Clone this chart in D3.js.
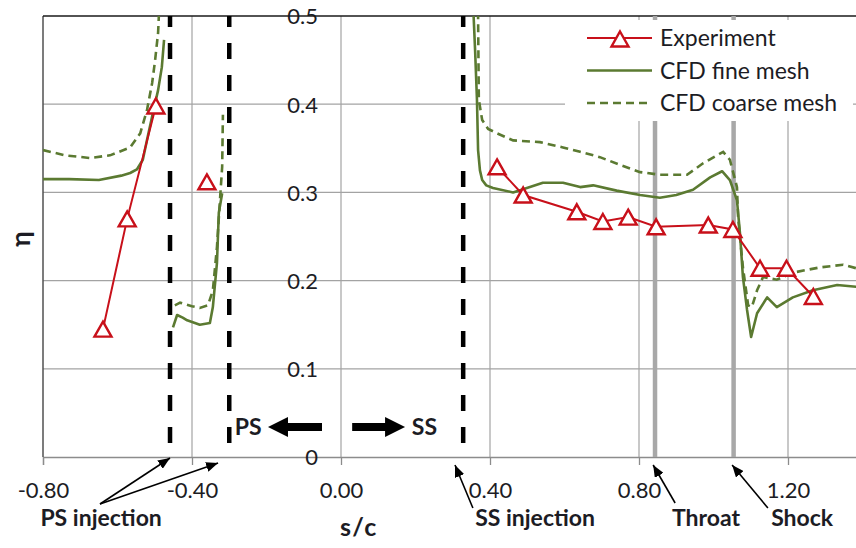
<!DOCTYPE html>
<html>
<head>
<meta charset="utf-8">
<script src="https://cdn.jsdelivr.net/npm/d3@7"></script>
<style>
  html, body { margin: 0; padding: 0; background: #fff; }
  svg { display: block; }
  text { font-family: Lato, "Liberation Sans", sans-serif; fill: #1c1c24; }
</style>
</head>
<body>
<svg id="chart" width="856" height="548"></svg>
<script>
// ---- data: surface distance s/c vs. film-cooling effectiveness η ----
const xTicks = [-0.8, -0.4, 0.0, 0.4, 0.8, 1.2];
const yTicks = [0, 0.1, 0.2, 0.3, 0.4, 0.5];

// Experiment (three separate runs of markers along the surface)
const expPS  = [[-0.639, 0.145], [-0.574, 0.270], [-0.497, 0.398]];
const expMid = [[-0.360, 0.312]];
const expSS  = [[0.419, 0.329], [0.489, 0.297], [0.633, 0.278], [0.703, 0.267], [0.771, 0.272],
                [0.846, 0.261], [0.986, 0.263], [1.052, 0.258], [1.125, 0.214], [1.196, 0.214],
                [1.268, 0.182]];

// CFD fine mesh
const finePS = [[-0.80, 0.315], [-0.73, 0.315], [-0.65, 0.314], [-0.59, 0.319], [-0.566, 0.322],
                [-0.548, 0.326], [-0.532, 0.337], [-0.521, 0.359], [-0.505, 0.390], [-0.491, 0.416],
                [-0.481, 0.442], [-0.475, 0.473]];
const fineMid = [[-0.451, 0.147], [-0.440, 0.161], [-0.425, 0.158], [-0.413, 0.155], [-0.379, 0.150],
                 [-0.352, 0.152], [-0.344, 0.170], [-0.333, 0.220], [-0.328, 0.277], [-0.319, 0.299]];
const fineSS = [[0.353, 0.52], [0.356, 0.50], [0.360, 0.461], [0.365, 0.405], [0.368, 0.348],
                [0.373, 0.325], [0.379, 0.314], [0.390, 0.308], [0.408, 0.305], [0.462, 0.300],
                [0.499, 0.305], [0.542, 0.311], [0.596, 0.311], [0.642, 0.306], [0.677, 0.308],
                [0.740, 0.302], [0.803, 0.297], [0.856, 0.294], [0.900, 0.297], [0.945, 0.303],
                [0.991, 0.317], [1.023, 0.324], [1.044, 0.314], [1.063, 0.291], [1.071, 0.254],
                [1.079, 0.204], [1.090, 0.167], [1.101, 0.136], [1.117, 0.163], [1.144, 0.181],
                [1.170, 0.170], [1.213, 0.181], [1.267, 0.189], [1.332, 0.195], [1.383, 0.193],
                [1.400, 0.192]];

// CFD coarse mesh
const coarsePS = [[-0.80, 0.348], [-0.74, 0.342], [-0.674, 0.339], [-0.620, 0.342], [-0.566, 0.351],
                  [-0.539, 0.367], [-0.521, 0.393], [-0.507, 0.424], [-0.499, 0.450], [-0.491, 0.481],
                  [-0.489, 0.500], [-0.488, 0.520]];
const coarseMid = [[-0.446, 0.172], [-0.432, 0.175], [-0.400, 0.171], [-0.379, 0.169], [-0.357, 0.172],
                   [-0.344, 0.189], [-0.333, 0.238], [-0.325, 0.291], [-0.319, 0.329], [-0.317, 0.388]];
const coarseSS = [[0.367, 0.52], [0.368, 0.50], [0.370, 0.405], [0.379, 0.382], [0.395, 0.372],
                  [0.419, 0.367], [0.462, 0.359], [0.534, 0.357], [0.596, 0.351], [0.642, 0.346],
                  [0.695, 0.340], [0.750, 0.331], [0.803, 0.323], [0.856, 0.320], [0.929, 0.320],
                  [0.972, 0.333], [1.026, 0.346], [1.044, 0.337], [1.063, 0.306], [1.066, 0.272],
                  [1.079, 0.215], [1.093, 0.172], [1.103, 0.170], [1.117, 0.189], [1.133, 0.204],
                  [1.170, 0.201], [1.213, 0.209], [1.286, 0.215], [1.348, 0.218], [1.383, 0.214],
                  [1.400, 0.213]];

// Reference locations along the surface
const injectionLines = [-0.459, -0.300, 0.328];   // PS, PS, SS injection rows
const featureLines   = [0.843, 1.054];            // throat, shock

// ---- layout ----
const svg = d3.select("#chart");
const x = d3.scaleLinear().domain([-0.8, 1.4]).range([43, 862.5]);
const y = d3.scaleLinear().domain([0, 0.5]).range([457, 16]);
const [x0, x1] = x.range();
const [yb, yt] = y.range();

const RED = "#c8101a";
const GREEN = "#5b7a31";

svg.append("rect").attr("width", 856).attr("height", 548).attr("fill", "#fff");

svg.append("defs").append("clipPath").attr("id", "plot")
  .append("rect").attr("x", x0).attr("y", yt).attr("width", x1 - x0).attr("height", yb - yt);

// gridlines
const grid = svg.append("g").attr("stroke", "#a3a3a3").attr("stroke-width", 1.2);
grid.selectAll("line.h").data(yTicks.slice(1, -1)).join("line")
  .attr("x1", x0).attr("x2", x1).attr("y1", d => y(d)).attr("y2", d => y(d));
grid.selectAll("line.v").data(xTicks.slice(1)).join("line")
  .attr("y1", yt).attr("y2", yb).attr("x1", d => x(d)).attr("x2", d => x(d));

// x axis (ticks + labels)
const xAxis = d3.axisBottom(x).tickValues(xTicks).tickFormat(d => d.toFixed(2))
  .tickSize(8).tickPadding(17);
const gx = svg.append("g").attr("transform", `translate(0,${yb})`).call(xAxis);
gx.select(".domain").attr("stroke", "#8c8c8c").attr("stroke-width", 1.3);
gx.selectAll(".tick line").attr("stroke", "#8c8c8c").attr("stroke-width", 1.3);
gx.selectAll(".tick text").attr("font-size", 22).attr("font-family", "Lato, sans-serif")
  .attr("fill", "#1c1c30");

// y axis placed at s/c = 0
const yAxis = d3.axisLeft(y).tickValues(yTicks).tickFormat(d => d === 0 ? "0" : d.toFixed(1))
  .tickSize(0).tickPadding(23);
const gy = svg.append("g").attr("transform", `translate(${x(0)},0)`).call(yAxis);
gy.select(".domain").remove();
gy.selectAll(".tick text").attr("font-size", 22).attr("font-family", "Lato, sans-serif")
  .attr("dy", "0.36em").attr("fill", "#1c1c30");

// plot frame: left and top edges
svg.append("line").attr("x1", x0).attr("x2", x0).attr("y1", yt).attr("y2", yb)
  .attr("stroke", "#505050").attr("stroke-width", 1.5);
svg.append("line").attr("x1", x0).attr("x2", x1).attr("y1", yt).attr("y2", yt)
  .attr("stroke", "#1a1a1a").attr("stroke-width", 1.5);

const plot = svg.append("g").attr("clip-path", "url(#plot)");

// throat and shock markers
plot.selectAll("line.feature").data(featureLines).join("line")
  .attr("x1", d => x(d)).attr("x2", d => x(d)).attr("y1", yt).attr("y2", yb)
  .attr("stroke", "#a8a8a8").attr("stroke-width", 4.5);

// injection rows
plot.selectAll("line.inj").data(injectionLines).join("line")
  .attr("x1", d => x(d)).attr("x2", d => x(d)).attr("y1", yt).attr("y2", yb)
  .attr("stroke", "#000").attr("stroke-width", 4.5)
  .attr("stroke-dasharray", "16,16").attr("stroke-dashoffset", 5);

const line = d3.line().x(d => x(d[0])).y(d => y(d[1]));

// CFD curves
[finePS, fineMid, fineSS].forEach(seg => {
  plot.append("path").datum(seg).attr("d", line).attr("fill", "none")
    .attr("stroke", GREEN).attr("stroke-width", 2.6).attr("stroke-linejoin", "round");
});
[coarsePS, coarseMid, coarseSS].forEach(seg => {
  plot.append("path").datum(seg).attr("d", line).attr("fill", "none")
    .attr("stroke", GREEN).attr("stroke-width", 2.6).attr("stroke-dasharray", "8,5");
});

// experiment
const tri = (w, h) => `M0,${-h / 2}L${w / 2},${h / 2}L${-w / 2},${h / 2}Z`;
[expPS, expMid, expSS].forEach(seg => {
  plot.append("path").datum(seg).attr("d", line).attr("fill", "none")
    .attr("stroke", RED).attr("stroke-width", 2);
});
plot.selectAll("path.marker").data([...expPS, ...expMid, ...expSS]).join("path")
  .attr("class", "marker")
  .attr("transform", d => `translate(${x(d[0])},${y(d[1])})`)
  .attr("d", tri(17, 15)).attr("fill", "#fff").attr("stroke", RED).attr("stroke-width", 2.4)
  .attr("stroke-linejoin", "miter");

// legend
const lg = svg.append("g");
lg.append("rect").attr("x", 565).attr("y", 20).attr("width", 288).attr("height", 101).attr("fill", "#fff");
const legendItems = [
  { label: "Experiment", dash: null, color: RED, marker: true, w: 2 },
  { label: "CFD fine mesh", dash: null, color: GREEN, marker: false, w: 2.6 },
  { label: "CFD coarse mesh", dash: "8,5", color: GREEN, marker: false, w: 2.6 }
];
legendItems.forEach((it, i) => {
  const cy = 38 + i * 32.5;
  lg.append("line").attr("x1", 587).attr("x2", 652).attr("y1", cy).attr("y2", cy)
    .attr("stroke", it.color).attr("stroke-width", it.w).attr("stroke-dasharray", it.dash);
  if (it.marker) {
    lg.append("path").attr("transform", `translate(620,${cy + 1})`).attr("d", tri(17, 15))
      .attr("fill", "#fff").attr("stroke", RED).attr("stroke-width", 2.4);
  }
  lg.append("text").attr("x", 660).attr("y", cy).attr("dy", "0.36em")
    .attr("font-size", 23).text(it.label);
});

// axis titles
svg.append("text").attr("x", x(0.048)).attr("y", 536).attr("text-anchor", "middle")
  .attr("font-size", 25).attr("font-weight", 700).attr("letter-spacing", 1.5).text("s/c");
svg.append("text").attr("transform", `translate(30,${y(0.247)}) rotate(-90)`)
  .attr("text-anchor", "middle").attr("font-size", 26).attr("font-weight", 700).text("η");

// pressure side / suction side direction arrows
function blockArrow(xTail, xTip, eta) {
  const yy = y(eta), dir = Math.sign(xTip - xTail);
  const tx = x(xTail), hx = x(xTip), headL = 20, half = 10, shaft = 4;
  const bx = hx - dir * headL;
  svg.append("path").attr("fill", "#000")
    .attr("d", `M${tx},${yy - shaft}L${bx},${yy - shaft}L${bx},${yy - half}L${hx},${yy}` +
               `L${bx},${yy + half}L${bx},${yy + shaft}L${tx},${yy + shaft}Z`);
}
blockArrow(-0.051, -0.196, 0.034);
blockArrow(0.030, 0.172, 0.034);
svg.append("text").attr("x", x(-0.285)).attr("y", y(0.034)).attr("dy", "0.36em")
  .attr("font-size", 23).attr("font-weight", 700).text("PS");
svg.append("text").attr("x", x(0.190)).attr("y", y(0.034)).attr("dy", "0.36em")
  .attr("font-size", 23).attr("font-weight", 700).text("SS");

// callouts below the axis
const defs = svg.select("defs");
defs.append("marker").attr("id", "head").attr("viewBox", "0 0 12 10")
  .attr("refX", 12).attr("refY", 5).attr("markerWidth", 12).attr("markerHeight", 10)
  .attr("markerUnits", "userSpaceOnUse").attr("orient", "auto")
  .append("path").attr("d", "M0,0L12,5L0,10Z").attr("fill", "#000");

const callouts = [
  { label: "PS injection", lx: -0.644, arrows: [[-0.647, 504, -0.459, 458], [-0.647, 504, -0.330, 463]] },
  { label: "SS injection", lx: 0.521, arrows: [[0.354, 508, 0.306, 465]] },
  { label: "Throat", lx: 0.980, arrows: [[0.897, 503, 0.838, 465]] },
  { label: "Shock", lx: 1.238, arrows: [[1.146, 508, 1.050, 465]] }
];
callouts.forEach(c => {
  c.arrows.forEach(a => {
    svg.append("line").attr("x1", x(a[0])).attr("y1", a[1]).attr("x2", x(a[2])).attr("y2", a[3])
      .attr("stroke", "#000").attr("stroke-width", 1.6).attr("marker-end", "url(#head)");
  });
  svg.append("text").attr("x", x(c.lx)).attr("y", 526).attr("text-anchor", "middle")
    .attr("font-size", 23).attr("font-weight", 700).text(c.label);
});
</script>
</body>
</html>
